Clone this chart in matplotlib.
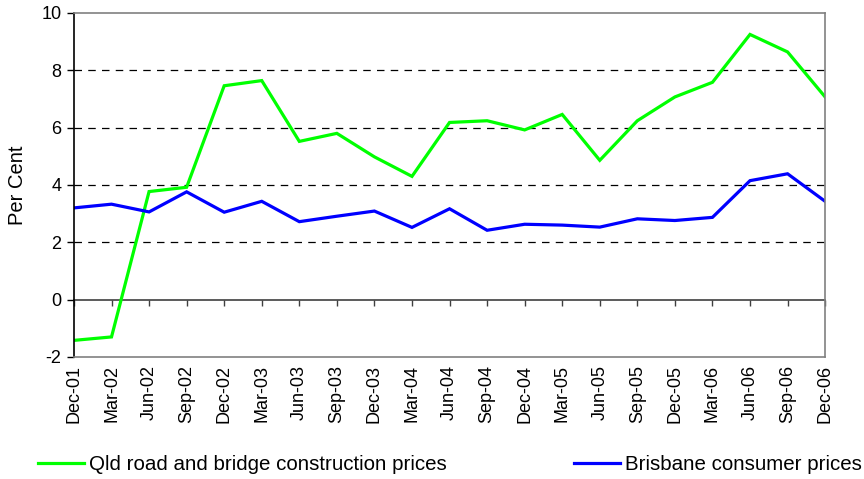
import numpy as np
import matplotlib.pyplot as plt

plt.rcParams['font.family'] = ['Liberation Sans', 'DejaVu Sans']
plt.rcParams['axes.unicode_minus'] = False

quarters = ["Dec-01", "Mar-02", "Jun-02", "Sep-02", "Dec-02", "Mar-03", "Jun-03",
            "Sep-03", "Dec-03", "Mar-04", "Jun-04", "Sep-04", "Dec-04", "Mar-05",
            "Jun-05", "Sep-05", "Dec-05", "Mar-06", "Jun-06", "Sep-06", "Dec-06"]
qld_road = [-1.42, -1.30, 3.77, 3.92, 7.46, 7.64, 5.52, 5.80, 4.98, 4.30, 6.18,
            6.24, 5.92, 6.46, 4.86, 6.24, 7.07, 7.58, 9.25, 8.64, 7.07]
bris_cpi = [3.20, 3.33, 3.06, 3.76, 3.05, 3.43, 2.72, 2.91, 3.09, 2.52, 3.17,
            2.42, 2.63, 2.60, 2.53, 2.82, 2.76, 2.87, 4.15, 4.39, 3.43]
yticks = [-2, 0, 2, 4, 6, 8, 10]

fig = plt.figure(figsize=(8.64, 4.79), dpi=100)
ax = fig.add_axes([0.0856, 0.2547, 0.8694, 0.7183])

x = np.arange(len(quarters))
l1, = ax.plot(x, qld_road, color="#00ff00", linewidth=2.3, solid_joinstyle="miter")
l2, = ax.plot(x, bris_cpi, color="#0000ff", linewidth=2.3, solid_joinstyle="miter")

ax.set_xlim(0, len(quarters) - 1)
ax.set_ylim(-2, 10)
ax.set_yticks(yticks)
for yv in [2, 4, 6, 8]:
    ax.axhline(yv, color="black", linewidth=0.9, linestyle=(0, (6, 5)), zorder=0)

for side in ["top", "right", "bottom"]:
    ax.spines[side].set_color("#808080")
    ax.spines[side].set_linewidth(1.2)
ax.spines["left"].set_color("black")
ax.spines["left"].set_linewidth(1.2)

ax.tick_params(axis="y", direction="out", length=5, width=1, labelsize=13, pad=4)
ax.set_xticks(x)
ax.set_xticklabels(quarters, rotation=90)
ax.tick_params(axis="x", length=0, labelsize=13, pad=6)

# category axis crossing at zero
zero_ax = ax.secondary_xaxis(2 / 12)
zero_ax.set_xticks(x)
zero_ax.set_xticklabels([])
zero_ax.tick_params(axis="x", direction="out", length=4, width=1, color="#404040")
zero_ax.spines["bottom"].set_color("#404040")
zero_ax.spines["bottom"].set_linewidth(1.2)

ax.set_ylabel("Per Cent", fontsize=14.5, labelpad=10)

leg_kw = dict(loc="center left", frameon=False, fontsize=14.8, handlelength=2.25,
              handletextpad=0.25, borderpad=0, borderaxespad=0)
fig.legend([l1], ["Qld road and bridge construction prices"],
           bbox_to_anchor=(38 / 864, 1 - 465 / 479), **leg_kw)
fig.legend([l2], ["Brisbane consumer prices"],
           bbox_to_anchor=(574 / 864, 1 - 465 / 479), **leg_kw)

fig.savefig("out.png", dpi=100)
